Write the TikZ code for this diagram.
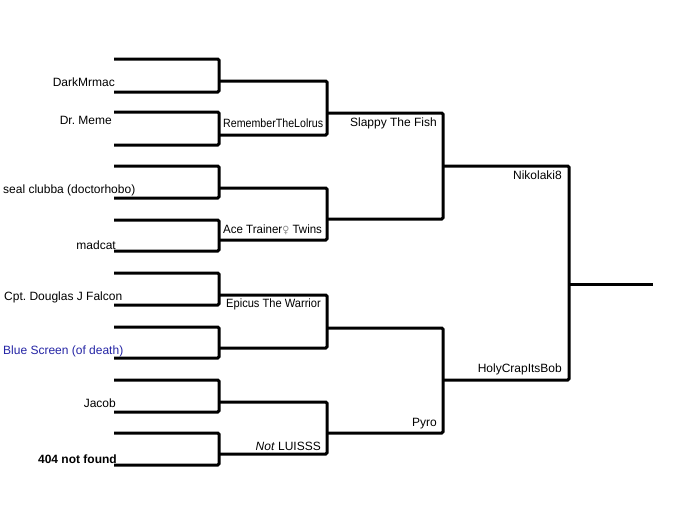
\documentclass[tikz,border=0pt]{standalone}
\usepackage{fontspec}
\setmainfont{Liberation Sans}
\newfontfamily\symfont{DejaVu Sans}
\frenchspacing
\definecolor{bsblue}{RGB}{36,36,165}
\definecolor{symgray}{RGB}{140,140,140}
\begin{document}
\begin{tikzpicture}[x=1pt,y=-1pt,
  br/.style={line width=3pt, rounded corners=1.2pt},
  lbl/.style={inner sep=0pt, font=\fontsize{12}{14}\selectfont}]
\useasboundingbox (0,0) rectangle (680,525);
\fill[white] (0,0) rectangle (680,525);
% round 1
\foreach \a/\b in {59/92,112/145,166/198,220/251,273/305,327/358,380/412,433/465}
  \draw[br] (114,\a) -- (219,\a) -- (219,\b) -- (114,\b);
% round 2
\foreach \a/\b in {81/135,188/240,295/348,402/454}
  \draw[br] (219,\a) -- (327,\a) -- (327,\b) -- (219,\b);
% round 3
\foreach \a/\b in {113/219,328/433}
  \draw[br] (327,\a) -- (443,\a) -- (443,\b) -- (327,\b);
% round 4
\draw[br] (443,166) -- (569,166) -- (569,380) -- (443,380);
\coordinate (fa) at (569,284);
\coordinate (fb) at (653,284);
\draw[br] (fa) -- (fb);
% labels round 1
\node[lbl, anchor=base east] (p1) at (115,86) {DarkMrmac};
\node[lbl, anchor=base east] (p2) at (112,124) {Dr. Meme};
\node[lbl, anchor=base west] (p3) at (3,193) {seal clubba (doctorhobo)};
\node[lbl, anchor=base east] (p4) at (116,249) {madcat};
\node[lbl, anchor=base west] (p5) at (4,300.5) {Cpt. Douglas J Falcon};
\node[lbl, anchor=base west, text=bsblue] (p6) at (3,354) {Blue Screen (of death)};
\node[lbl, anchor=base east] (p7) at (116,407) {Jacob};
\node[lbl, anchor=base east, font=\fontsize{12}{14}\selectfont\bfseries] (p8) at (117,463) {404 not found};
% labels round 2
\node[lbl, anchor=base west] (m1) at (223,127) {\scalebox{0.887}[1]{RememberTheLolrus}};
\node[lbl, anchor=base west] (m2) at (223,233) {\scalebox{0.96}[1]{Ace Trainer{\color{symgray}\symfont\fontsize{10}{12}\selectfont ♀} Twins}};
\node[lbl, anchor=base east] (m3) at (321,307.6) {\scalebox{0.925}[1]{Epicus The Warrior}};
\node[lbl, anchor=base east] (m4) at (321,450) {\textit{Not} LUISSS};
% labels round 3
\node[lbl, anchor=base east] (q1) at (437,126.3) {Slappy The Fish};
\node[lbl, anchor=base east] (q2) at (437,426) {Pyro};
% labels round 4
\node[lbl, anchor=base east] (s1) at (562,179) {Nikolaki8};
\node[lbl, anchor=base east] (s2) at (562,372) {HolyCrapItsBob};
\end{tikzpicture}
\end{document}
